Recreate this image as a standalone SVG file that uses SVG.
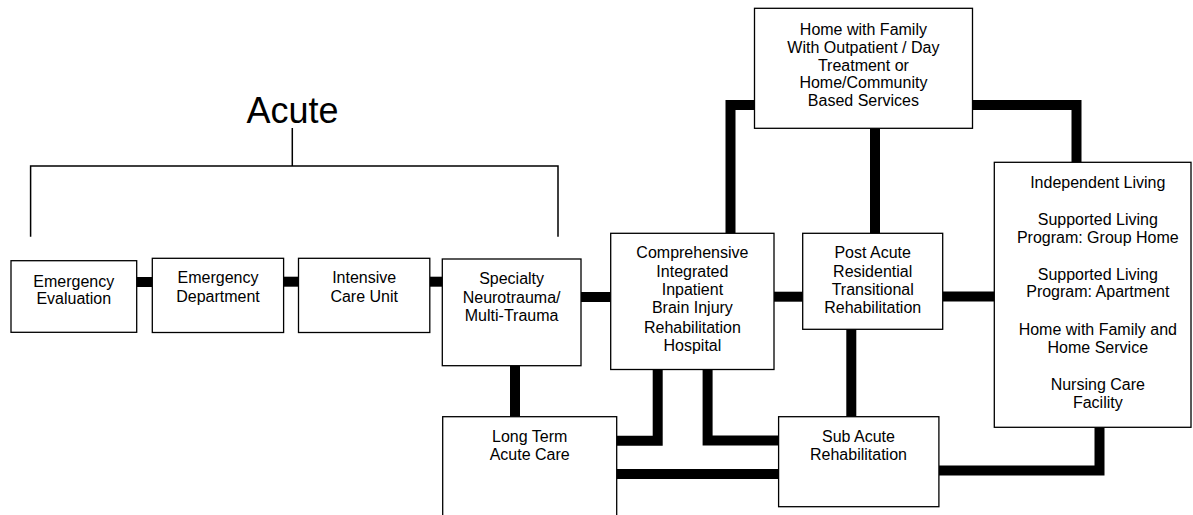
<svg xmlns="http://www.w3.org/2000/svg" width="1193" height="515" viewBox="0 0 1193 515">
<style>
.box{fill:#fff;stroke:#000;stroke-width:1.3}
.t{font-family:"Liberation Sans",Arial,sans-serif;font-size:16px;fill:#000;text-anchor:middle}
.title{font-family:"Liberation Sans",Arial,sans-serif;font-size:36px;fill:#000;text-anchor:middle}
.bar{fill:none;stroke:#000;stroke-width:10;stroke-linejoin:miter;stroke-linecap:butt}
.thin{fill:none;stroke:#000;stroke-width:1.5}
</style>
<rect width="1193" height="515" fill="#fff"/>
<g id="acute">
<text class="title" x="292.5" y="123">Acute</text>
<path class="thin" d="M292.3 128 V166 M30.6 236.7 V166 H558 V236.7"/>
</g>
<g id="connectors">
<path class="bar" d="M136.7 282 H152.3"/>
<path class="bar" d="M283.6 281.7 H298.5"/>
<path class="bar" d="M429.8 281.7 H442.3"/>
<path class="bar" d="M581 297 H610.7"/>
<path class="bar" d="M774 296.7 H802.7"/>
<path class="bar" d="M942.7 296.5 H994.3"/>
<path class="bar" d="M515 365.7 V416.7"/>
<path class="bar" d="M754.5 105 H730.5 V233.3"/>
<path class="bar" d="M875 128.3 V233.3"/>
<path class="bar" d="M972.5 105 H1076.5 V162.3"/>
<path class="bar" d="M851.3 329.3 V416.7"/>
<path class="bar" d="M657.7 369.5 V440.7 H616.7"/>
<path class="bar" d="M707.6 369.5 V440.4 H778.6"/>
<path class="bar" d="M616.7 474 H778.6"/>
<path class="bar" d="M938.9 470.4 H1099.5 V427.3"/>
</g>
<g id="emergency-evaluation">
<rect class="box" x="11" y="260.7" width="125.7" height="71.6"/>
<text class="t" x="73.8" y="287.3">Emergency</text>
<text class="t" x="73.8" y="304.3">Evaluation</text>
</g>
<g id="emergency-department">
<rect class="box" x="152.3" y="258.3" width="131.3" height="74.2"/>
<text class="t" x="218" y="283.3">Emergency</text>
<text class="t" x="218" y="301.7">Department</text>
</g>
<g id="intensive-care">
<rect class="box" x="298.5" y="258.3" width="131.3" height="74.2"/>
<text class="t" x="364.2" y="283.3">Intensive</text>
<text class="t" x="364.2" y="301.7">Care Unit</text>
</g>
<g id="specialty">
<rect class="box" x="442.3" y="259" width="138.7" height="106.7"/>
<text class="t" x="511.6" y="284.3">Specialty</text>
<text class="t" x="511.6" y="302.6">Neurotrauma/</text>
<text class="t" x="511.6" y="321">Multi-Trauma</text>
</g>
<g id="long-term">
<rect class="box" x="442.7" y="416.7" width="174" height="110"/>
<text class="t" x="529.7" y="441.7">Long Term</text>
<text class="t" x="529.7" y="460">Acute Care</text>
</g>
<g id="comprehensive">
<rect class="box" x="610.7" y="233.3" width="163.3" height="136.2"/>
<text class="t" x="692.4" y="258.3">Comprehensive</text>
<text class="t" x="692.4" y="276.7">Integrated</text>
<text class="t" x="692.4" y="295">Inpatient</text>
<text class="t" x="692.4" y="313.3">Brain Injury</text>
<text class="t" x="692.4" y="332.7">Rehabilitation</text>
<text class="t" x="692.4" y="351">Hospital</text>
</g>
<g id="post-acute">
<rect class="box" x="802.7" y="233.3" width="140" height="96"/>
<text class="t" x="872.7" y="258.3">Post Acute</text>
<text class="t" x="872.7" y="276.7">Residential</text>
<text class="t" x="872.7" y="295">Transitional</text>
<text class="t" x="872.7" y="313.3">Rehabilitation</text>
</g>
<g id="home-family">
<rect class="box" x="754.5" y="8.3" width="218" height="120"/>
<text class="t" x="863.4" y="35">Home with Family</text>
<text class="t" x="863.4" y="53">With Outpatient / Day</text>
<text class="t" x="863.4" y="70.7">Treatment or</text>
<text class="t" x="863.4" y="88.4">Home/Community</text>
<text class="t" x="863.4" y="106">Based Services</text>
</g>
<g id="sub-acute">
<rect class="box" x="778.6" y="416.7" width="160.3" height="90"/>
<text class="t" x="858.5" y="441.7">Sub Acute</text>
<text class="t" x="858.5" y="460">Rehabilitation</text>
</g>
<g id="independent">
<rect class="box" x="994.3" y="162.3" width="196.7" height="265"/>
<text class="t" x="1097.8" y="188">Independent Living</text>
<text class="t" x="1097.8" y="225">Supported Living</text>
<text class="t" x="1097.8" y="243.3">Program: Group Home</text>
<text class="t" x="1097.8" y="280">Supported Living</text>
<text class="t" x="1097.8" y="297">Program: Apartment</text>
<text class="t" x="1097.8" y="335">Home with Family and</text>
<text class="t" x="1097.8" y="353">Home Service</text>
<text class="t" x="1097.8" y="390">Nursing Care</text>
<text class="t" x="1097.8" y="408.3">Facility</text>
</g>
</svg>
